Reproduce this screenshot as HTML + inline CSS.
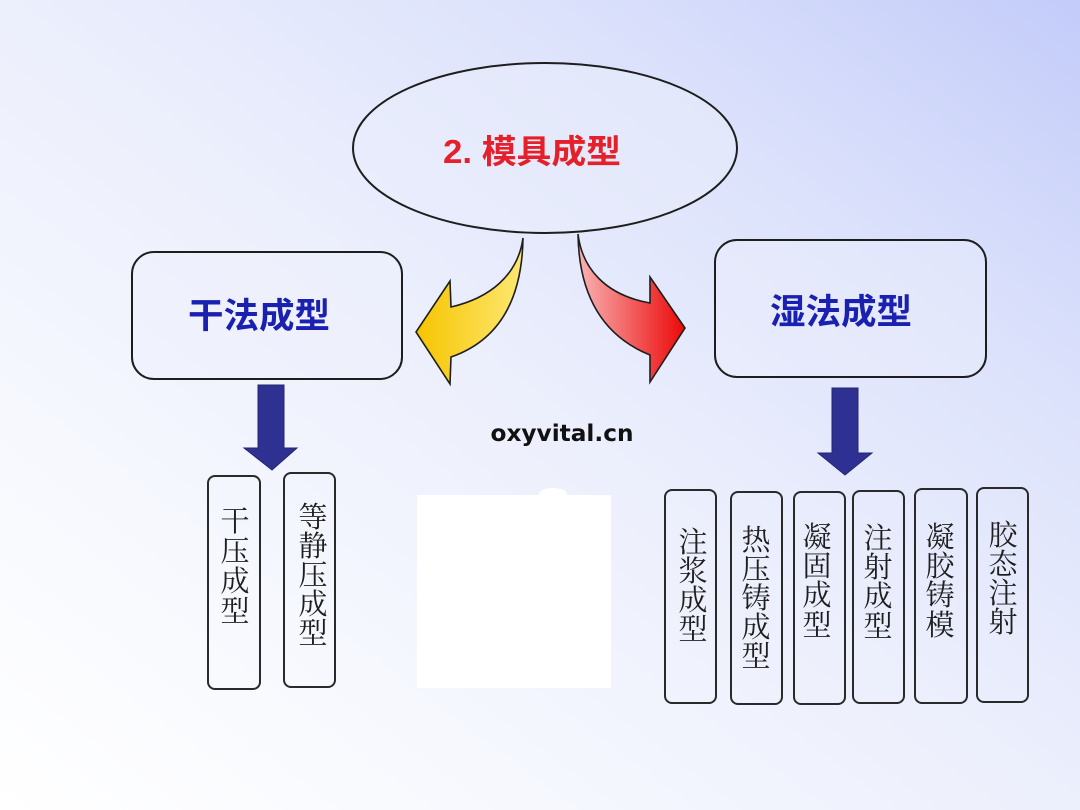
<!DOCTYPE html>
<html>
<head>
<meta charset="utf-8">
<style>
  html,body{margin:0;padding:0;}
  body{width:1080px;height:810px;overflow:hidden;
    background:linear-gradient(to bottom left,#c3ccfa 0%,#dce2fb 25%,#eceffc 50%,#f6f8fe 75%,#ffffff 100%);}
  svg{display:block;}
</style>
</head>
<body>
<svg width="1080" height="810" viewBox="0 0 1080 810" xmlns="http://www.w3.org/2000/svg">
  <defs>
    <linearGradient id="yg" x1="0" y1="0" x2="1" y2="0">
      <stop offset="0" stop-color="#f6c400"/>
      <stop offset="1" stop-color="#fde872"/>
    </linearGradient>
    <linearGradient id="rg" x1="0" y1="0" x2="1" y2="0">
      <stop offset="0" stop-color="#f9b4b4"/>
      <stop offset="1" stop-color="#ec0808"/>
    </linearGradient>
  </defs>

  <!-- Ellipse -->
  <ellipse cx="545" cy="148" rx="192" ry="85" fill="#e9edfb" fill-opacity="0.5" stroke="#1e1e1e" stroke-width="2"/>
  <text x="532" y="163" text-anchor="middle" font-family="'Liberation Sans','Noto Sans CJK SC',sans-serif" font-weight="bold" font-size="33" fill="#e5202a" textLength="178" lengthAdjust="spacingAndGlyphs">2. 模具成型</text>

  <!-- Big boxes -->
  <rect x="132" y="252" width="270" height="127" rx="22" ry="22" fill="#eef1fc" fill-opacity="0.4" stroke="#1e1e1e" stroke-width="2"/>
  <text x="259" y="328" text-anchor="middle" font-family="'Liberation Sans','Noto Sans CJK SC',sans-serif" font-weight="bold" font-size="35" fill="#1a20b0" textLength="142" lengthAdjust="spacingAndGlyphs">干法成型</text>

  <rect x="715" y="240" width="271" height="137" rx="22" ry="22" fill="#eef1fc" fill-opacity="0.4" stroke="#1e1e1e" stroke-width="2"/>
  <text x="841" y="324" text-anchor="middle" font-family="'Liberation Sans','Noto Sans CJK SC',sans-serif" font-weight="bold" font-size="35" fill="#1a20b0" textLength="142" lengthAdjust="spacingAndGlyphs">湿法成型</text>

  <!-- Curved arrows -->
  <path d="M523,238 C518,275 490,298 451,307 L450,281 L416,332 L450,384 L451,357 C497,341 522,302 523,238 Z" fill="url(#yg)" stroke="#1e1e1e" stroke-width="1.6" stroke-linejoin="miter"/>
  <path d="M578,234 C582,268 605,295 650,303 L650,277 L685,328 L650,382 L650,355 C608,338 579,302 578,234 Z" fill="url(#rg)" stroke="#1e1e1e" stroke-width="1.6" stroke-linejoin="miter"/>

  <!-- Down arrows -->
  <path d="M258,385 L284,385 L284,448 L297,448 L272,470 L244,448 L258,448 Z" fill="#2e3192" stroke="#23266e" stroke-width="1"/>
  <path d="M832,388 L858,388 L858,453 L872,453 L845,475 L818,453 L832,453 Z" fill="#2e3192" stroke="#23266e" stroke-width="1"/>

  <!-- Watermark -->
  <text x="562" y="441" text-anchor="middle" font-family="'DejaVu Sans','Liberation Sans',sans-serif" font-weight="bold" font-size="23" fill="#111" textLength="143" lengthAdjust="spacingAndGlyphs">oxyvital.cn</text>

  <!-- White patch -->
  <rect x="417" y="495" width="194" height="193" fill="#ffffff"/>
  <ellipse cx="553" cy="494" rx="14" ry="6" fill="#ffffff"/>

  <!-- Small boxes -->
  <g fill="none" stroke="#2a2a2a" stroke-width="2">
    <rect x="208" y="476" width="52" height="213" rx="7"/>
    <rect x="284" y="473" width="51" height="214" rx="7"/>
    <rect x="665" y="490" width="51" height="213" rx="7"/>
    <rect x="731" y="492" width="51" height="212" rx="7"/>
    <rect x="794" y="492" width="51" height="212" rx="7"/>
    <rect x="853" y="491" width="51" height="212" rx="7"/>
    <rect x="915" y="489" width="52" height="214" rx="7"/>
    <rect x="977" y="488" width="51" height="214" rx="7"/>
  </g>

  <g font-family="'Liberation Serif','Noto Serif CJK SC',serif" font-size="29" fill="#1e1e1e" text-anchor="middle">
    <!-- 干压成型 -->
    <text x="235" y="531">干</text>
    <text x="235" y="561">压</text>
    <text x="235" y="591">成</text>
    <text x="235" y="621">型</text>
    <!-- 等静压成型 -->
    <text x="313" y="527">等</text>
    <text x="313" y="556">静</text>
    <text x="313" y="585">压</text>
    <text x="313" y="614">成</text>
    <text x="313" y="643">型</text>
    <!-- 注浆成型 -->
    <text x="693" y="552">注</text>
    <text x="693" y="581">浆</text>
    <text x="693" y="610">成</text>
    <text x="693" y="639">型</text>
    <!-- 热压铸成型 -->
    <text x="756" y="550">热</text>
    <text x="756" y="579">压</text>
    <text x="756" y="608">铸</text>
    <text x="756" y="637">成</text>
    <text x="756" y="666">型</text>
    <!-- 凝固成型 -->
    <text x="817" y="547">凝</text>
    <text x="817" y="576">固</text>
    <text x="817" y="605">成</text>
    <text x="817" y="635">型</text>
    <!-- 注射成型 -->
    <text x="878" y="548">注</text>
    <text x="878" y="577">射</text>
    <text x="878" y="606">成</text>
    <text x="878" y="636">型</text>
    <!-- 凝胶铸模 -->
    <text x="940" y="547">凝</text>
    <text x="940" y="576">胶</text>
    <text x="940" y="605">铸</text>
    <text x="940" y="635">模</text>
    <!-- 胶态注射 -->
    <text x="1003" y="545">胶</text>
    <text x="1003" y="574">态</text>
    <text x="1003" y="603">注</text>
    <text x="1003" y="632">射</text>
  </g>
</svg>
</body>
</html>
